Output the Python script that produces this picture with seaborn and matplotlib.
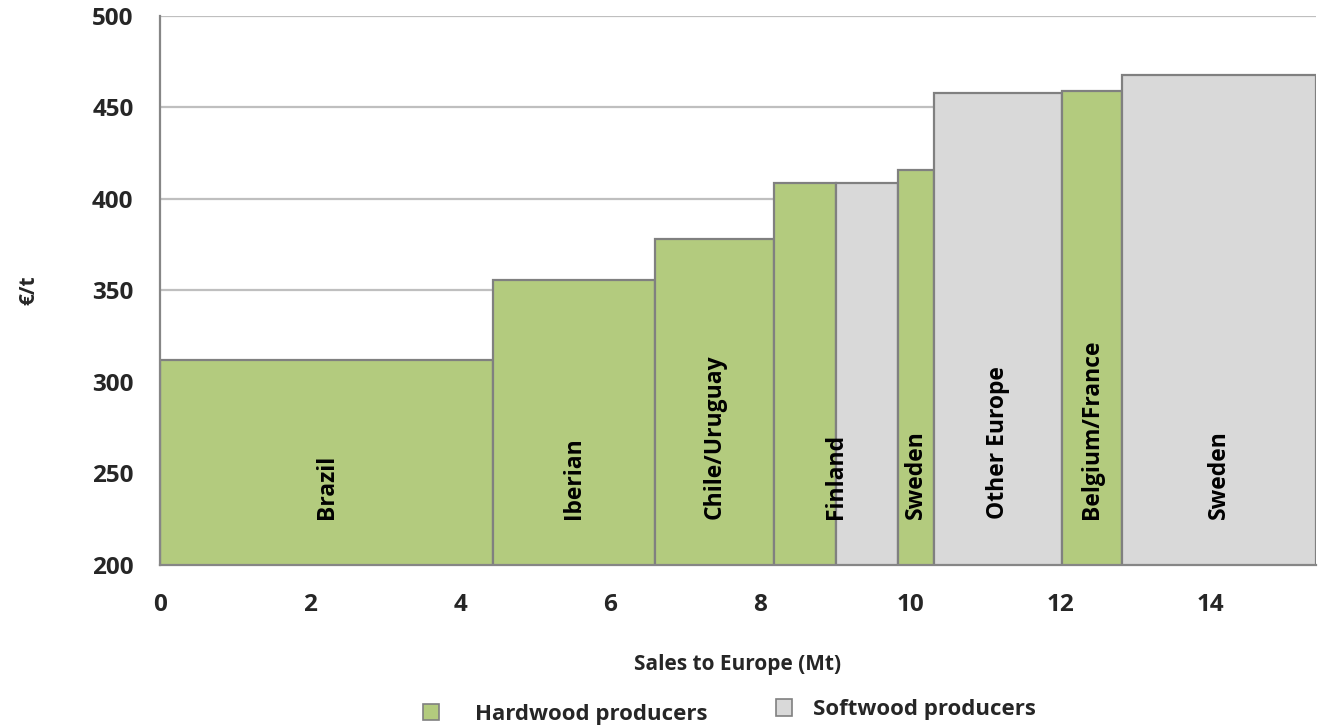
import matplotlib
matplotlib.use("Agg")
import matplotlib.pyplot as plt
from matplotlib.patches import Patch
import seaborn as sns

# Pulp producers supplying Europe, ordered by cash cost
producers = ["Brazil", "Iberian", "Chile/Uruguay", "Finland", "Finland",
             "Sweden", "Other Europe", "Belgium/France", "Sweden"]
wood_type = ["Hardwood", "Hardwood", "Hardwood", "Hardwood", "Softwood",
             "Hardwood", "Softwood", "Hardwood", "Softwood"]
sales_mt = [4.44, 2.16, 1.59, 0.82, 0.83, 0.48, 1.70, 0.81, 2.58]
cost_eur_t = [312, 355.5, 378, 409, 409, 416, 458, 459, 467.5]

legend_labels = {"Hardwood": "Hardwood producers", "Softwood": "Softwood producers"}

sns.set_theme(style="white")
font = ["Open Sans", "DejaVu Sans"]
plt.rcParams["font.family"] = font

palette = {"Hardwood": "#B3CB7E", "Softwood": "#D9D9D9"}
edge = "#808080"

fig = plt.figure(figsize=(13.19, 7.26), dpi=100)
ax = fig.add_axes([0.1213, 0.2218, 0.9977 - 0.1213, 0.978 - 0.2218])

# cumulative left edges of the variable-width bars
lefts = []
acc = 0.0
for w in sales_mt:
    lefts.append(acc)
    acc += w
total = acc

ax.set_axisbelow(True)
ax.yaxis.grid(True, color="#BFBFBF", linewidth=1.6)
ax.bar(lefts, cost_eur_t, width=sales_mt, align="edge",
       color=[palette[t] for t in wood_type], edgecolor=edge, linewidth=1.6,
       zorder=2)

# region labels, merging consecutive bars that belong to the same region
i = 0
while i < len(producers):
    j = i
    while j + 1 < len(producers) and producers[j + 1] == producers[i]:
        j += 1
    xc = (lefts[i] + lefts[j] + sales_mt[j]) / 2
    ax.text(xc, 225, producers[i], rotation=90, ha="center", va="bottom",
            fontsize=16.5, fontweight="bold", color="black", zorder=3)
    i = j + 1

ax.set_xlim(0, total)
ax.set_ylim(200, 500)
ax.set_xticks(range(0, 15, 2))
ax.set_yticks(range(200, 501, 50))

for side in ("top", "right"):
    ax.spines[side].set_visible(False)
for side in ("left", "bottom"):
    ax.spines[side].set_color("#868686")
    ax.spines[side].set_linewidth(1.6)

ax.tick_params(axis="both", which="both", direction="out", length=7,
               width=1.6, color="#868686", labelsize=17.5, pad=12)
ax.tick_params(axis="x", pad=13)
for lab in ax.get_xticklabels() + ax.get_yticklabels():
    lab.set_fontweight("bold")

ax.set_xlabel("Sales to Europe (Mt)", fontsize=15, fontweight="bold", labelpad=27)
ax.set_ylabel("€/t", fontsize=15, fontweight="bold")
ax.yaxis.set_label_coords(-0.104, 0.5)

# legend entries placed side by side under the axis title
legend_spots = {"Hardwood": ((0.3207, 0.0165), 1.65),
                "Softwood": ((0.5883, 0.0225), 0.95)}
for k in ("Hardwood", "Softwood"):
    anchor, pad = legend_spots[k]
    h = Patch(facecolor=palette[k], edgecolor=edge, linewidth=1.2,
              label=legend_labels[k])
    fig.legend(handles=[h], loc="center left", bbox_to_anchor=anchor,
               frameon=False, borderpad=0, borderaxespad=0,
               prop={"family": font, "weight": "bold", "size": 16},
               handlelength=0.7, handleheight=0.75, handletextpad=pad)

fig.savefig("out.png", dpi=100)
